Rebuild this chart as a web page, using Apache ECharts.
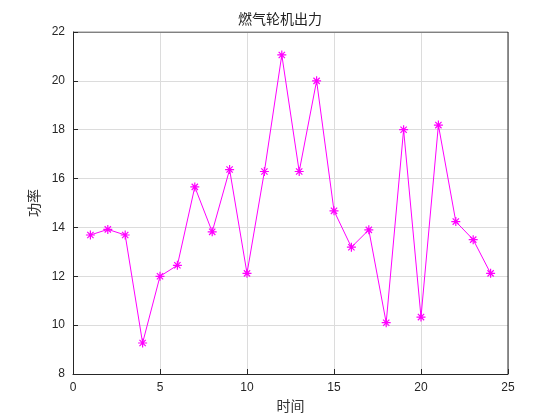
<!DOCTYPE html>
<html>
<head>
<meta charset="utf-8">
<script src="https://cdn.jsdelivr.net/npm/echarts@6/dist/echarts.min.js"></script>
<style>html,body{margin:0;padding:0;background:#fff}#main{width:560px;height:420px}</style>
</head>
<body>
<div id="main"></div>
<script>
// 时间 / 功率
var times = [1,2,3,4,5,6,7,8,9,10,11,12,13,14,15,16,17,18,19,20,21,22,23,24];
var power = [13.69,13.92,13.69,9.27,12.0,12.45,15.66,13.82,16.37,12.12,16.29,21.06,
	16.29,20.0,14.68,13.19,13.9,10.1,18.0,10.33,18.19,14.24,13.5,12.12];

var data = [];
for(var i = 0; i < times.length; i++) {
	data.push([times[i], power[i]]);
}

var font = "'Noto Sans CJK SC', sans-serif";
var chart = echarts.init(document.getElementById('main'));
chart.setOption({
	animation: false,
	title: {
		text: '燃气轮机出力', left: 'center', top: 7,
		textStyle: {fontSize: 14, fontWeight: 'normal', color: '#222', fontFamily: font}
	},
	grid: {left: 73, right: 52, top: 32, bottom: 46},
	xAxis: {
		type: 'value', min: 0, max: 25, interval: 5,
		name: '时间', nameLocation: 'middle', nameGap: 20,
		nameTextStyle: {fontSize: 14, color: '#333', fontFamily: font},
		axisLine: {onZero: false, lineStyle: {color: '#262626'}},
		axisTick: {inside: true, lineStyle: {color: '#262626'}},
		axisLabel: {color: '#262626', fontSize: 12, fontFamily: 'Arial'},
		splitLine: {lineStyle: {color: '#dcdcdc'}}
	},
	yAxis: {
		type: 'value', min: 8, max: 22, interval: 2,
		name: '功率', nameLocation: 'middle', nameGap: 30,
		nameTextStyle: {fontSize: 14, color: '#333', fontFamily: font},
		axisLine: {show: true, lineStyle: {color: '#262626'}},
		axisTick: {inside: true, lineStyle: {color: '#262626'}},
		axisLabel: {color: '#262626', fontSize: 12, fontFamily: 'Arial'},
		splitLine: {lineStyle: {color: '#dcdcdc'}}
	},
	series: [{
		type: 'line', data: data,
		symbol: 'path://M0,-5L0,5M-5,0L5,0M-3.5,-3.5L3.5,3.5M-3.5,3.5L3.5,-3.5',
		symbolSize: 9,
		lineStyle: {color: '#ff00ff', width: 1},
		itemStyle: {color: '#ff00ff', borderColor: '#ff00ff', borderWidth: 1.2}
	}, {
		// top and right frame
		type: 'line', data: [[0, 22], [25, 22], [25, 8]],
		symbol: 'none', silent: true,
		lineStyle: {color: '#262626', width: 1}
	}]
});
</script>
</body>
</html>
